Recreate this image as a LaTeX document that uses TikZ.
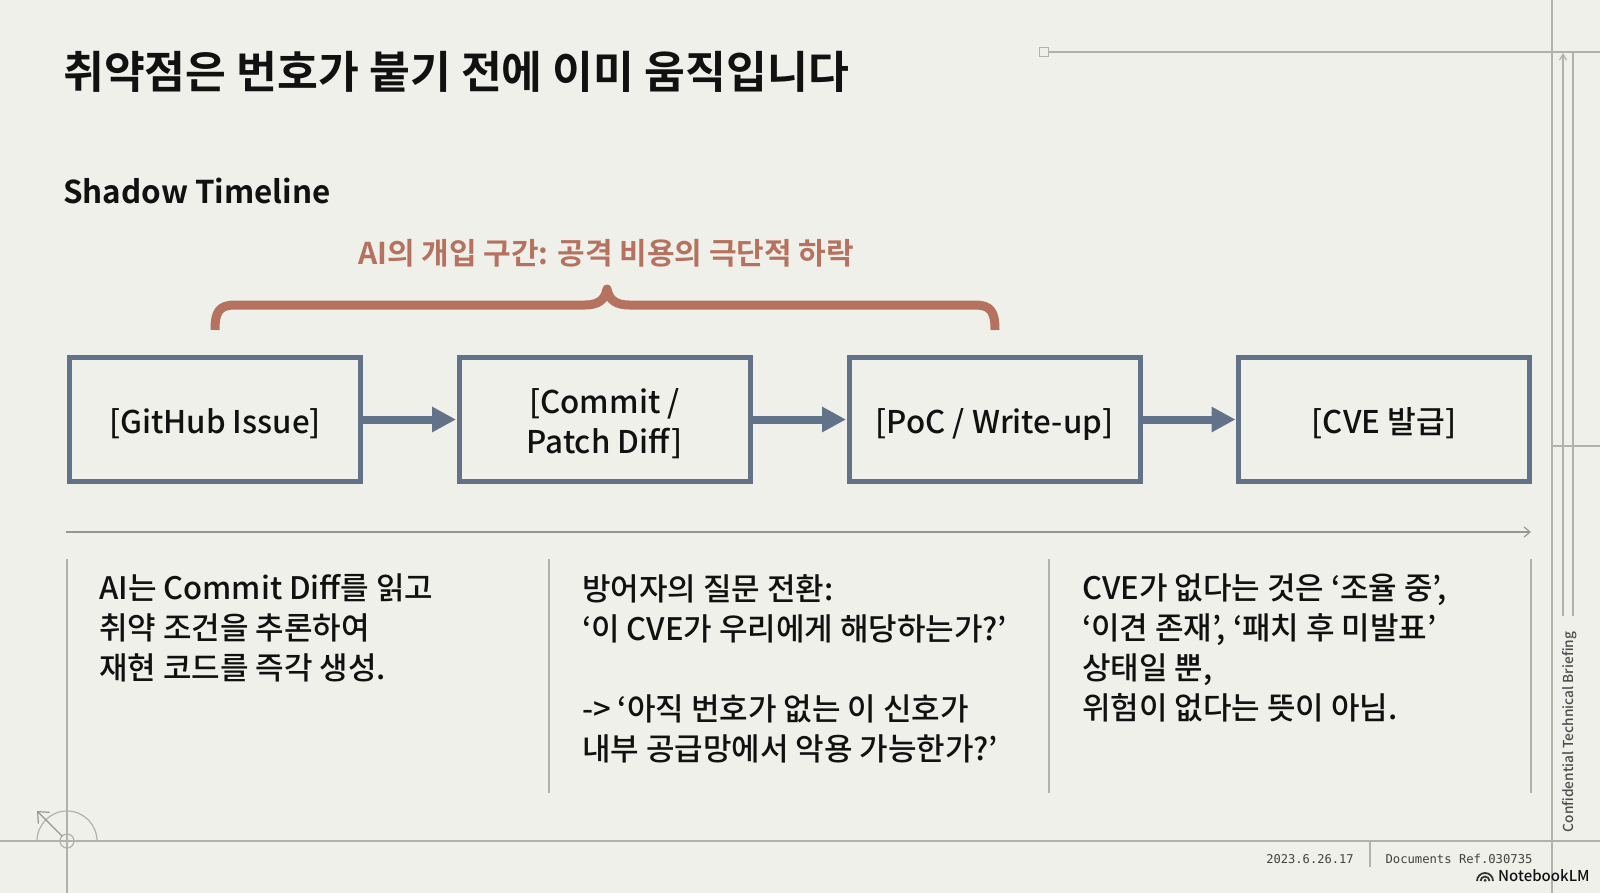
\documentclass[tikz,border=0pt]{standalone}
\usepackage{fontspec}
\usetikzlibrary{arrows.meta}
\setmainfont{Noto Sans CJK KR}[UprightFont={* Medium},BoldFont={* Bold}]
\setmonofont{DejaVu Sans Mono}
\definecolor{paper}{HTML}{F0F0EA}
\definecolor{ink}{HTML}{111111}
\definecolor{steel}{HTML}{627288}
\definecolor{rust}{HTML}{B5725F}
\definecolor{guide}{HTML}{B2B2AA}
\newcommand\lowtext{\rule{0pt}{34pt}}
\tikzset{
  x=1pt,y=1pt,
  flowbox/.style={draw=steel,line width=5pt,inner sep=0pt,outer sep=0pt,minimum width=291pt,minimum height=124pt,align=center,text=ink,font=\fontsize{31.3}{40}\selectfont},
  flow/.style={draw=steel,line width=8pt,shorten >=3pt,-{Triangle[length=24pt,width=24pt]}},
  guideline/.style={draw=guide,line width=1.2pt},
  body/.style={anchor=north west,inner sep=0pt,align=left,text=ink,font=\fontsize{31}{40}\selectfont},
}
\begin{document}
\begin{tikzpicture}
\useasboundingbox (0,0) rectangle (1600,-893);
\fill[paper] (0,0) rectangle (1600,-893);
% guides
\draw[guideline] (1049,-52) -- (1600,-52);
\node[draw=guide,line width=1.2pt,minimum size=9pt,inner sep=0pt] (sq) at (1044,-52) {};
\draw[guideline] (1552,0) -- (1552,-893);
\draw[guideline] (1552,-446) -- (1600,-446);
\draw[guideline] (1573,-53) -- (1573,-616);
\draw[guideline,-{Straight Barb[length=6pt,width=7pt]}] (1563,-616) -- (1563,-53);
\draw[guideline] (0,-841) -- (1600,-841);
\draw[guideline] (67,-559) -- (67,-893);
\draw[guideline] (549,-559) -- (549,-793);
\draw[guideline] (1049,-559) -- (1049,-793);
\draw[guideline] (1531,-559) -- (1531,-793);
\draw[guideline] (1370,-841) -- (1370,-867);
\draw[guideline] (67,-841) circle (7);
\draw[guideline] (37,-841) arc (180:0:30);
\draw[guideline,draw=guide!85!black,-{Straight Barb[length=9pt,width=16pt]}] (62,-836) -- (37,-811);
\coordinate (tlstart) at (66,-532);
\coordinate (tlend) at (1531,-532);
\draw[draw=guide!85!black,line width=1.2pt,-{Straight Barb[length=6pt,width=10pt]}] (tlstart) -- (tlend);
% titles
\node[anchor=base west,inner sep=0pt,text=ink,font=\fontsize{44.4}{50}\selectfont\bfseries] (title) at (63,-89) {취약점은 번호가 붙기 전에 이미 움직입니다};
\node[anchor=base west,inner sep=0pt,text=ink,font=\fontsize{31.4}{36}\selectfont\bfseries] (sub) at (63,-203.5) {Shadow Timeline};
\node[anchor=base west,inner sep=0pt,text=rust,font=\fontsize{30}{36}\selectfont\bfseries] (ai) at (358,-265) {AI의 개입 구간: 공격 비용의 극단적 하락};
% brace
\draw[rust,line width=9pt,line join=round] (215,-330) .. controls (215,-312) and (219,-305) .. (235,-305)
  -- (585,-305) .. controls (598,-305) and (605,-300) .. (607,-289)
  .. controls (609,-300) and (616,-305) .. (629,-305)
  -- (975,-305) .. controls (991,-305) and (995,-312) .. (995,-330);
% boxes
\node[flowbox] (b1) at (215,-419.5) {\lowtext[GitHub Issue]};
\node[flowbox] (b2) at (604.5,-419.5) {\lowtext[Commit /\\Patch Diff]};
\node[flowbox] (b3) at (994.5,-419.5) {\lowtext[PoC / Write-up]};
\node[flowbox] (b4) at (1384,-419.5) {\lowtext[CVE 발급]};
\draw[flow] (b1) -- (b2);
\draw[flow] (b2) -- (b3);
\draw[flow] (b3) -- (b4);
% body text
\node[body] (c1) at (99,-574) {AI는 Commit Diff를 읽고\\취약 조건을 추론하여\\재현 코드를 즉각 생성.};
\node[body] (c2) at (582,-574) {방어자의 질문 전환:\\‘이 CVE가 우리에게 해당하는가?’\\[40pt]-> ‘아직 번호가 없는 이 신호가\\내부 공급망에서 악용 가능한가?’};
\node[body] (c3) at (1082,-574) {CVE가 없다는 것은 ‘조율 중’,\\‘이견 존재’, ‘패치 후 미발표’\\상태일 뿐,\\위험이 없다는 뜻이 아님.};
% margin
\node[rotate=90,inner sep=0pt,text=ink!75,font=\fontsize{13.7}{16}\selectfont] (conf) at (1570,-732) {Confidential Technical Briefing};
\node[inner sep=0pt,text=ink!80,font=\fontsize{12.1}{14}\selectfont\ttfamily] (date) at (1310,-859) {2023.6.26.17};
\node[inner sep=0pt,text=ink!80,font=\fontsize{12.2}{14}\selectfont\ttfamily] (ref) at (1459,-859) {Documents Ref.030735};
\node[anchor=west,inner sep=0pt,text=ink,font=\fontsize{15}{18}\selectfont] (nlm) at (1498,-876) {NotebookLM};
\draw[ink!85,line width=1.8pt] (1477,-881) arc (180:0:8) (1480.5,-881) arc (180:0:4.5) (1484,-881) arc (180:0:1);
\end{tikzpicture}
\end{document}
